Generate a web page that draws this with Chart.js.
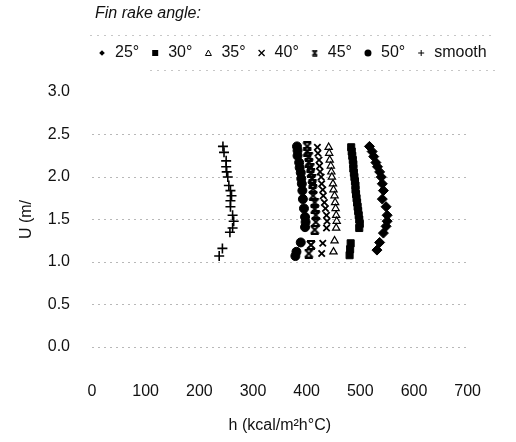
<!DOCTYPE html>
<html><head><meta charset="utf-8">
<script src="https://cdn.jsdelivr.net/npm/chart.js@4.4.1/dist/chart.umd.min.js"></script>
<style>html,body{margin:0;padding:0;background:#fff}#wrap{width:516px;height:442px;position:relative}</style>
</head><body><div id="wrap"><canvas id="c" width="516" height="442"></canvas></div>
<script>
// ---- data ----
const seriesNames = ['25°', '30°', '35°', '40°', '45°', '50°', 'smooth'];
const xTicks = [0, 100, 200, 300, 400, 500, 600, 700];
const yTicks = [0, 0.5, 1.0, 1.5, 2.0, 2.5, 3.0];

const u25 = [2.36, 2.30, 2.24, 2.17, 2.12, 2.06, 2.00, 1.92, 1.84, 1.74, 1.65, 1.55, 1.48, 1.42, 1.34, 1.23, 1.14];
const h25 = [517, 522, 525, 529, 532, 536, 539, 541, 543, 541, 548, 550, 550, 548, 543, 536, 531];

const u30 = [2.35, 2.30, 2.25, 2.20, 2.15, 2.10, 2.05, 2.00, 1.95, 1.90, 1.85, 1.80, 1.75, 1.70, 1.65, 1.60, 1.55, 1.50, 1.45, 1.40, 1.22, 1.15, 1.08];
const h30 = [483, 484, 485, 486, 487, 487, 488, 489, 490, 491, 491, 492, 493, 494, 495, 496, 497, 498, 499, 498, 482, 481, 480];

const u35 = [2.35, 2.28, 2.20, 2.13, 2.06, 2.00, 1.92, 1.85, 1.78, 1.70, 1.63, 1.55, 1.48, 1.40, 1.25, 1.12];
const h35 = [441, 442, 443, 445, 446, 447, 449, 450, 452, 453, 454, 455, 456, 455, 452, 450];

const u40 = [2.35, 2.28, 2.20, 2.13, 2.06, 2.00, 1.92, 1.85, 1.78, 1.70, 1.63, 1.55, 1.48, 1.40, 1.22, 1.10];
const h40 = [420, 421, 423, 424, 425, 427, 428, 430, 431, 433, 435, 437, 438, 437, 430, 428];

const u45 = [2.36, 2.30, 2.24, 2.17, 2.11, 2.05, 1.98, 1.92, 1.86, 1.78, 1.70, 1.62, 1.55, 1.47, 1.38, 1.20, 1.10];
const h45 = [401, 401, 404, 404, 407, 408, 410, 411, 412, 412, 415, 415, 417, 417, 415, 408, 404];

const u50 = [2.36, 2.31, 2.25, 2.17, 2.11, 2.05, 1.98, 1.92, 1.84, 1.74, 1.63, 1.53, 1.47, 1.41, 1.23, 1.12, 1.07];
const h50 = [382, 383, 383, 386, 387, 389, 390, 391, 392, 393, 395, 397, 398, 397, 389, 381, 379];

const uSm = [2.36, 2.29, 2.19, 2.12, 2.06, 2.00, 1.90, 1.84, 1.78, 1.72, 1.65, 1.55, 1.48, 1.40, 1.35, 1.16, 1.07];
const hSm = [244, 246, 250, 250, 251, 253, 255, 258, 260, 258, 258, 262, 264, 262, 257, 243, 237];

// ---- build ----
const pts = (h, u) => h.map((v, i) => ({x: v, y: u[i]}));

function makeAst(size, lw) {
  const c = document.createElement('canvas');
  c.width = c.height = size;
  const g = c.getContext('2d');
  g.strokeStyle = '#000'; g.lineWidth = lw; g.lineCap = 'butt';
  g.beginPath();
  g.moveTo(1, 1); g.lineTo(size - 1, size - 1);
  g.moveTo(size - 1, 1); g.lineTo(1, size - 1);
  g.moveTo(1, 1); g.lineTo(size - 1, 1);
  g.moveTo(1, size - 1); g.lineTo(size - 1, size - 1);
  g.stroke();
  return c;
}
const astBig = makeAst(10, 2);
const astSmall = makeAst(7, 1.4);

const FONT = 'Liberation Sans';
const styles = [
  {pointStyle: 'rectRot', radius: 5, bw: 1, fill: '#000'},
  {pointStyle: 'rect', radius: 5, bw: 1, fill: '#000'},
  {pointStyle: 'triangle', radius: 4.2, bw: 1.2, fill: '#fff'},
  {pointStyle: 'crossRot', radius: 4.5, bw: 1.8, fill: '#000'},
  {pointStyle: astBig, radius: 5, bw: 1, fill: '#000'},
  {pointStyle: 'circle', radius: 4.5, bw: 1, fill: '#000'},
  {pointStyle: 'cross', radius: 5, bw: 1.6, fill: '#000'}
];
const dataSets = [pts(h25, u25), pts(h30, u30), pts(h35, u35), pts(h40, u40), pts(h45, u45), pts(h50, u50), pts(hSm, uSm)];

const datasets = dataSets.map((d, i) => ({
  label: seriesNames[i],
  data: d,
  showLine: false,
  pointStyle: styles[i].pointStyle,
  pointRadius: styles[i].radius,
  pointHoverRadius: styles[i].radius,
  pointBorderWidth: styles[i].bw,
  pointBackgroundColor: styles[i].fill,
  pointBorderColor: '#000'
}));

function legendMarker(ctx, i, x, y) {
  ctx.save();
  ctx.fillStyle = '#000'; ctx.strokeStyle = '#000';
  ctx.beginPath();
  switch (i) {
    case 0: ctx.moveTo(x, y - 2.8); ctx.lineTo(x + 2.8, y); ctx.lineTo(x, y + 2.8); ctx.lineTo(x - 2.8, y); ctx.closePath(); ctx.fill(); break;
    case 1: ctx.fillRect(x - 3, y - 3, 6, 6); break;
    case 2: ctx.lineWidth = 1; ctx.moveTo(x, y - 3); ctx.lineTo(x + 3, y + 2.5); ctx.lineTo(x - 3, y + 2.5); ctx.closePath(); ctx.stroke(); break;
    case 3: ctx.lineWidth = 1.3; ctx.moveTo(x - 3, y - 3); ctx.lineTo(x + 3, y + 3); ctx.moveTo(x + 3, y - 3); ctx.lineTo(x - 3, y + 3); ctx.stroke(); break;
    case 4: ctx.drawImage(astSmall, x - 3.5, y - 3.5); break;
    case 5: ctx.arc(x, y, 3.5, 0, Math.PI * 2); ctx.fill(); break;
    case 6: ctx.lineWidth = 1; ctx.moveTo(x - 3, y); ctx.lineTo(x + 3, y); ctx.moveTo(x, y - 3); ctx.lineTo(x, y + 3); ctx.stroke(); break;
  }
  ctx.restore();
}

const legendPlugin = {
  id: 'customLegend',
  afterDraw(chart) {
    const ctx = chart.ctx;
    ctx.save();
    // faint dotted frame lines around the legend row
    ctx.strokeStyle = 'rgba(0,0,0,0.22)';
    ctx.lineWidth = 1;
    ctx.setLineDash([2, 5]);
    ctx.beginPath();
    ctx.moveTo(90, 35.5); ctx.lineTo(495, 35.5);
    ctx.moveTo(150, 70.5); ctx.lineTo(495, 70.5);
    ctx.stroke();
    ctx.setLineDash([]);

    ctx.fillStyle = '#111';
    ctx.textBaseline = 'middle';
    ctx.textAlign = 'left';
    ctx.font = 'italic 16px "' + FONT + '"';
    ctx.fillText('Fin rake angle:', 95, 14);
    ctx.font = '16px "' + FONT + '"';
    let x = 102;
    const y = 53;
    chart.data.datasets.forEach((ds, i) => {
      legendMarker(ctx, i, x, y);
      const tx = x + 13;
      ctx.fillStyle = '#111';
      ctx.fillText(ds.label, tx, y);
      x = tx + ctx.measureText(ds.label).width + 16;
    });
    ctx.restore();
  }
};

new Chart(document.getElementById('c'), {
  type: 'scatter',
  data: {datasets},
  options: {
    responsive: false,
    animation: false,
    devicePixelRatio: 1,
    layout: {padding: {left: 0, right: 23, top: 92, bottom: 0}},
    plugins: {legend: {display: false}, tooltip: {enabled: false}},
    scales: {
      x: {
        type: 'linear', min: 0, max: 700,
        afterFit(s) { s.height = 95; },
        afterBuildTicks(s) { s.ticks = xTicks.map(v => ({value: v})); },
        ticks: {padding: 35, color: '#111', font: {family: FONT, size: 16}, callback: v => String(v)},
        grid: {display: false, drawTicks: false},
        border: {display: false},
        title: {display: true, text: 'h (kcal/m²h°C)', color: '#111', font: {family: FONT, size: 16}, padding: {top: 0, bottom: 7}}
      },
      y: {
        type: 'linear', min: 0, max: 3,
        afterFit(s) { s.width = 92; },
        afterBuildTicks(s) { s.ticks = yTicks.map(v => ({value: v})); },
        ticks: {padding: 22, color: '#111', font: {family: FONT, size: 16}, callback: v => Number(v).toFixed(1)},
        grid: {drawTicks: false, lineWidth: 1,
          color: c => (c.tick && c.tick.value === 3) ? 'rgba(0,0,0,0)' : 'rgba(0,0,0,0.28)'},
        border: {display: false, dash: [2, 4]},
        title: {display: true, text: 'U (m/', color: '#111', font: {family: FONT, size: 16}, padding: {top: 17, bottom: 0}}
      }
    }
  },
  plugins: [legendPlugin]
});
</script>
</body></html>
